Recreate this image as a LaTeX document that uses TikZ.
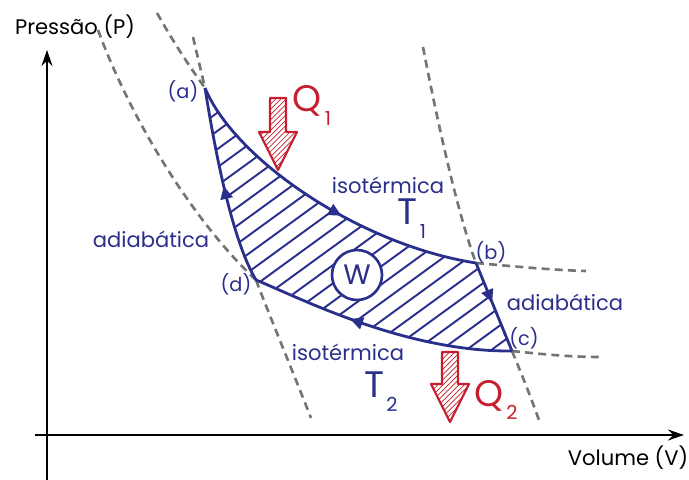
\documentclass[tikz,border=0pt]{standalone}
\usepackage{fontspec}
\setmainfont{Poppins}
\usepackage{tikz}
\usetikzlibrary{arrows.meta, decorations.markings, patterns, calc}
\definecolor{cycleblue}{RGB}{43,47,140}
\definecolor{heatred}{RGB}{198,32,48}
\definecolor{guidegray}{RGB}{112,118,114}
\tikzset{
  axisline/.style={-{Stealth[length=3.2mm,width=2.2mm]}, line width=1.2pt, black},
  cycleline/.style={line width=1.6pt, cycleblue, line join=round},
  guideline/.style={dash pattern=on 4.5pt off 3pt, line width=1.5pt, guidegray},
  midarrow/.style={postaction={decorate}, decoration={markings,
    mark=at position #1 with {\arrow{Triangle[length=2.6mm,width=2.4mm]}}}},
  hatchline/.style={cycleblue, line width=1.1pt},
  heatarrow/.style={draw=heatred, line width=1.2pt, pattern=north east lines, pattern color=heatred, line join=round},
  axislabel/.style={black, font=\fontsize{12}{14}\selectfont},
  labeltext/.style={cycleblue, font=\fontsize{12}{14}\selectfont},
  pointlabel/.style={cycleblue, font=\fontsize{11}{13}\selectfont},
  bigsym/.style={font=\fontsize{21}{24}\selectfont},
  subsym/.style={font=\fontsize{11}{13}\selectfont},
  workcircle/.style={circle, draw=cycleblue, fill=white, line width=1.5pt, text=cycleblue, minimum size=10mm, inner sep=0pt, font=\fontsize{16}{18}\selectfont}
}
\begin{document}
\begin{tikzpicture}[x=0.2mm, y=-0.2mm]
  \useasboundingbox (0,0) rectangle (689,480);
  \coordinate (pbot) at (47,480); \coordinate (ptop) at (47,50);
  \coordinate (vleft) at (35,435); \coordinate (vright) at (684,435);
  \draw[axisline] (pbot) -- (ptop);
  \draw[axisline] (vleft) -- (vright);
  \node[axislabel] (plabel) at (75,27) {Pressão (P)};
  \node[axislabel] (vlabel) at (628,458) {Volume (V)};

  \coordinate (a) at (205,88); \coordinate (b) at (476,263);
  \coordinate (c) at (512,351); \coordinate (d) at (256,280);

  \coordinate (g1) at (98,30); \coordinate (g2) at (311,418);
  \coordinate (g3) at (157,13); \coordinate (g4) at (193,37);
  \coordinate (g5) at (423,47); \coordinate (g6) at (586,271);
  \coordinate (g7) at (600,357); \coordinate (g8) at (540,423);
  \draw[guideline] (g1) .. controls (135,130) and (200,228) .. (d);
  \draw[guideline] (d) .. controls (272,322) and (293,372) .. (g2);
  \draw[guideline] (g3) .. controls (175,45) and (192,70) .. (a);
  \draw[guideline] (g4) -- (a);
  \draw[guideline] (g5) .. controls (437,120) and (458,215) .. (b);
  \draw[guideline] (b) .. controls (510,266) and (550,270) .. (g6);
  \draw[guideline] (c) .. controls (540,354) and (570,357) .. (g7);
  \draw[guideline] (c) .. controls (522,375) and (532,400) .. (g8);

  \begin{scope}
    \clip (a) .. controls (235,160) and (360,245) .. (b) -- (c)
      .. controls (405,352) and (300,298) .. (d) .. controls (235,245) and (218,170) .. (a);
    \foreach \x in {-150,-125,...,525}
      \draw[hatchline] (\x,380) -- ++(400,-291);
  \end{scope}
  \draw[cycleline, midarrow=0.57] (a) .. controls (235,160) and (360,245) .. (b);
  \draw[cycleline, midarrow=0.45] (b) -- (c);
  \draw[cycleline, midarrow=0.62] (c) .. controls (405,352) and (300,298) .. (d);
  \draw[cycleline, midarrow=0.5] (d) .. controls (235,245) and (218,170) .. (a);

  \node[workcircle] (work) at (357,275) {W};
  \node[pointlabel] (alabel) at (183,91) {(a)};
  \node[pointlabel] (blabel) at (491,252) {(b)};
  \node[pointlabel] (clabel) at (524,338) {(c)};
  \node[pointlabel] (dlabel) at (236,284) {(d)};

  \node[labeltext] (iso1) at (388,185) {isotérmica};
  \node[bigsym, cycleblue] (t1) at (407,212) {T};
  \node[subsym, cycleblue] (t1sub) at (423,232) {1};
  \node[labeltext] (iso2) at (348,352) {isotérmica};
  \node[bigsym, cycleblue] (t2) at (374,385) {T};
  \node[subsym, cycleblue] (t2sub) at (392,404) {2};
  \node[labeltext] (adia1) at (151,239) {adiabática};
  \node[labeltext] (adia2) at (565,302) {adiabática};

  \coordinate (q1tail) at (278,98);
  \draw[heatarrow] ($(q1tail)+(-8,0)$) -- ++(16,0) -- ++(0,34) -- ++(11,0)
    -- ++(-19,38) -- ++(-19,-38) -- ++(11,0) -- cycle;
  \node[bigsym, heatred] (q1) at (307,101) {Q};
  \node[subsym, heatred] (q1sub) at (328,119) {1};
  \coordinate (q2tail) at (450,352);
  \draw[heatarrow] ($(q2tail)+(-8,0)$) -- ++(16,0) -- ++(0,32) -- ++(11,0)
    -- ++(-19,38) -- ++(-19,-38) -- ++(11,0) -- cycle;
  \node[bigsym, heatred] (q2) at (489,396) {Q};
  \node[subsym, heatred] (q2sub) at (512,412) {2};
\end{tikzpicture}
\end{document}
